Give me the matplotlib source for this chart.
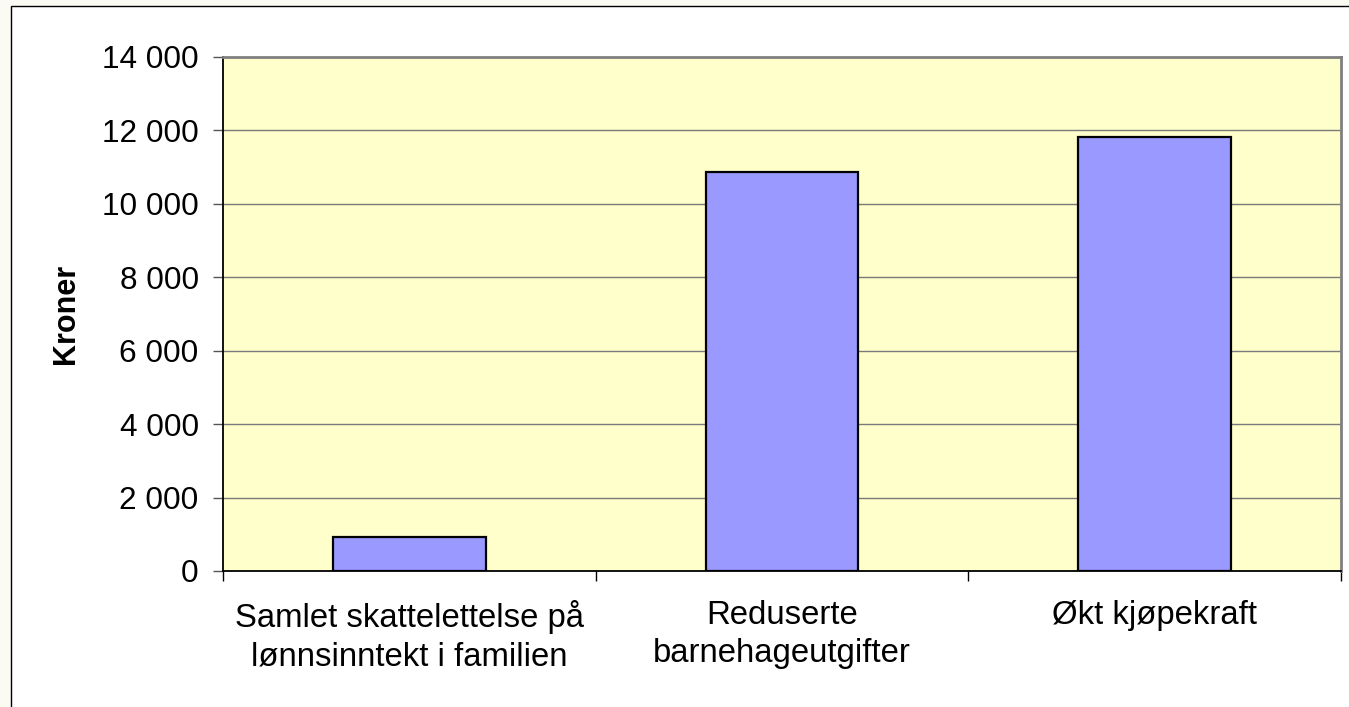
import numpy as np
import matplotlib
matplotlib.use("Agg")
import matplotlib.pyplot as plt
from matplotlib.ticker import FuncFormatter, FixedLocator
from matplotlib.patches import Rectangle


def thousands(x, pos):
    """format with space as thousands separator"""
    return f"{x:,.0f}".replace(",", " ")


# %% data
categories = ["Samlet skattelettelse på\nlønnsinntekt i familien",
              "Reduserte\nbarnehageutgifter",
              "Økt kjøpekraft"]
values = [925, 10870, 11820]
y_ticks = list(range(0, 14001, 2000))

# %% plot
plt.rcParams["font.family"] = ["Liberation Sans", "DejaVu Sans"]
plt.rc("font", size=22)
fig = plt.figure(figsize=(13.49, 7.07), dpi=100, facecolor="#FBFBF3")
W, H = 1349, 707

# white chart area with a thin black frame
fig.patches.append(Rectangle((11 / W, -0.1), 1.2, 1 - 6 / H + 0.1, transform=fig.transFigure,
                             facecolor="white", edgecolor="black", linewidth=1.0, zorder=-10))

ax = fig.add_axes([223 / W, (707 - 571) / H, (1341 - 223) / W, (571 - 57) / H])
ax.set_facecolor("#FFFFCC")

x = np.arange(len(categories))
ax.bar(x, values, width=0.41, color="#9999FF", edgecolor="black", linewidth=1.6, zorder=3)

ax.set_xlim(-0.5, len(categories) - 0.5)
ax.set_ylim(0, 14000)
ax.set_yticks(y_ticks)
ax.yaxis.set_major_formatter(FuncFormatter(thousands))
ax.grid(axis="y", color="#7a7a7a", linewidth=1.0, zorder=1)

ax.set_xticks(x)
ax.set_xticklabels(categories, linespacing=1.3, multialignment="center", fontsize=23.7)
ax.xaxis.set_minor_locator(FixedLocator(np.arange(-0.5, len(categories), 1.0)))
ax.tick_params(axis="x", which="major", length=0, pad=21)
ax.tick_params(axis="x", which="minor", length=7, width=1.0, color="black")
ax.tick_params(axis="y", length=7.5, width=1.0, color="#555555", pad=10, labelsize=22.7)

for side in ["top", "right"]:
    ax.spines[side].set_color("#808080")
    ax.spines[side].set_linewidth(2.0)
for side in ["left", "bottom"]:
    ax.spines[side].set_color("black")
    ax.spines[side].set_linewidth(1.3)

ax.set_ylabel("Kroner", fontweight="bold", labelpad=15)

plt.savefig("out.png", dpi=100, facecolor=fig.get_facecolor())
plt.close()
